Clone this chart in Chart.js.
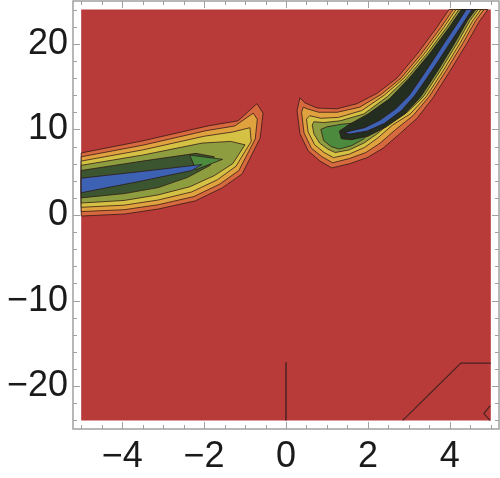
<!DOCTYPE html>
<html>
<head>
<meta charset="utf-8">
<script src="https://cdn.jsdelivr.net/npm/chart.js@4.4.0/dist/chart.umd.min.js"></script>
<style>
  html, body { margin: 0; padding: 0; background: #fff; }
  canvas { display: block; }
</style>
</head>
<body>
<canvas id="contourChart" width="500" height="478"></canvas>
<script>
// tick labels
const xTickValues = [-4, -2, 0, 2, 4];
const yTickValues = [-20, -10, 0, 10, 20];

// sampled region of the plot (x, y)
const plotRegion = [[-5, -24], [5, -24], [5, 24], [-5, 24]];

// left band, contour levels from outside to inside
const leftLevel1 = [[-5, 7.25], [-3.51, 8.65], [-1.9, 10.41], [-1.17, 11.0], [-0.71, 13.0], [-0.56, 11.9], [-0.63, 9.0],
  [-1.07, 4.8], [-1.56, 3.16], [-2.22, 1.64], [-3.12, 0.7], [-3.93, 0.12], [-5, -0.12]];
const leftLevel2 = [[-5, 6.8], [-3.5, 8.15], [-1.95, 9.85], [-1.25, 10.4], [-0.8, 11.9], [-0.7, 11.2], [-0.75, 8.9],
  [-1.15, 5.2], [-1.62, 3.6], [-2.25, 2.15], [-3.12, 1.2], [-3.95, 0.62], [-5, 0.4]];
const leftLevel3 = [[-5, 6.3], [-3.5, 7.6], [-2.0, 9.2], [-1.3, 9.7], [-0.88, 10.2], [-0.85, 8.6], [-1.22, 5.7],
  [-1.68, 4.1], [-2.3, 2.7], [-3.12, 1.75], [-3.95, 1.15], [-5, 0.9]];
const leftLevel4 = [[-5, 5.8], [-3.5, 7.0], [-2.05, 8.4], [-1.35, 8.6], [-1.0, 8.2], [-1.3, 6.0], [-1.75, 4.6],
  [-2.35, 3.3], [-3.12, 2.35], [-3.95, 1.7], [-5, 1.4]];
const leftLevel5 = [[-5, 5.2], [-3.5, 6.3], [-2.2, 7.2], [-1.75, 6.8], [-1.85, 5.8], [-2.4, 4.4], [-3.12, 3.2],
  [-3.95, 2.5], [-5, 2.0]];
const leftLevel6 = [[-2.35, 7.0], [-1.55, 6.5], [-2.2, 5.3]];
const leftLevel7 = [[-5, 4.3], [-3.5, 5.1], [-2.05, 5.9], [-2.3, 5.2], [-3.5, 4.0], [-5, 2.6]];

// right band, contour levels from outside to inside
const rightLevel1 = [[0.34, 13.7], [0.27, 12.2], [0.34, 9.5], [0.54, 7.5], [0.83, 6.3], [1.12, 5.5], [1.56, 6.0],
  [1.98, 6.7], [2.37, 7.8], [2.78, 9.5], [3.2, 11.3], [3.59, 13.7], [4.0, 16.8], [4.41, 20.0], [4.73, 22.7],
  [4.93, 24], [3.98, 24], [3.68, 21.9], [3.2, 18.8], [2.71, 16.0], [2.22, 14.2], [1.73, 13.0], [1.24, 12.4],
  [0.76, 12.5], [0.46, 13.1]];
const rightLevel2 = [[0.42, 12.6], [0.38, 12.0], [0.44, 9.6], [0.62, 7.8], [0.88, 6.8], [1.14, 6.1], [1.55, 6.6],
  [1.95, 7.3], [2.3, 8.4], [2.68, 10.0], [3.1, 11.6], [3.49, 13.8], [3.9, 16.8], [4.31, 20.0], [4.63, 22.7],
  [4.83, 24], [4.08, 24], [3.78, 21.9], [3.3, 18.8], [2.81, 16.0], [2.33, 14.1], [1.8, 12.6], [1.25, 12.0],
  [0.8, 12.0], [0.52, 12.4]];
const rightLevel3 = [[0.5, 11.2], [0.54, 9.7], [0.7, 8.2], [0.93, 7.3], [1.16, 6.7], [1.54, 7.1], [1.92, 7.9],
  [2.24, 9.0], [2.6, 10.5], [3.03, 11.8], [3.42, 13.8], [3.83, 16.8], [4.24, 20.0], [4.56, 22.7], [4.76, 24],
  [4.15, 24], [3.85, 21.9], [3.37, 18.8], [2.88, 16.0], [2.4, 14.0], [1.85, 12.2], [1.28, 11.4], [0.85, 11.3],
  [0.58, 11.6]];
const rightLevel4 = [[0.64, 10.5], [0.68, 9.5], [0.82, 8.4], [1.02, 7.7], [1.2, 7.3], [1.54, 7.6], [1.9, 8.4],
  [2.2, 9.4], [2.53, 10.7], [2.96, 12.0], [3.35, 13.8], [3.76, 16.8], [4.17, 20.0], [4.49, 22.7], [4.69, 24],
  [4.22, 24], [3.92, 21.9], [3.44, 18.8], [2.95, 16.0], [2.47, 13.8], [1.9, 11.8], [1.32, 11.0], [0.92, 10.8],
  [0.68, 10.9]];
const rightLevel5 = [[0.85, 10.0], [0.92, 8.7], [1.1, 8.0], [1.3, 7.7], [1.6, 8.1], [1.9, 8.9], [2.1, 9.9],
  [1.8, 10.8], [1.35, 10.6], [1.0, 10.3]];
const rightLevel6 = [[1.3, 9.8], [1.35, 8.9], [1.6, 8.8], [2.0, 9.2], [2.45, 10.3], [2.9, 11.8], [3.29, 13.8],
  [3.7, 16.8], [4.11, 20.0], [4.43, 22.7], [4.63, 24], [4.28, 24], [3.98, 21.9], [3.5, 18.8], [3.01, 16.0],
  [2.53, 13.6], [2.0, 11.8], [1.55, 10.6]];
const rightLevel7 = [[1.42, 9.6], [1.55, 9.45], [1.98, 9.8], [2.4, 10.7], [2.82, 12.2], [3.15, 14.0], [3.44, 16.0],
  [3.72, 18.0], [3.99, 20.0], [4.27, 22.0], [4.54, 24], [4.4, 24], [4.13, 22.0], [3.85, 20.0], [3.58, 18.0],
  [3.3, 16.0], [3.01, 14.0], [2.68, 12.4], [2.3, 11.1], [1.92, 10.2], [1.6, 9.85]];

// single contour lines near the bottom
const zeroLine = [[0, -24], [0, -17.2]];
const cornerLine = [[2.85, -24], [4.27, -17.3], [5, -17.3]];
const cornerNotch = [[4.98, -22.3], [4.83, -23.2], [4.98, -24]];

const backgroundColor = '#b83b3a';
const levelColors = ['#d6693e', '#e0a13f', '#d5c245', '#8e9d3f', '#4c8a3e', '#3a5530', '#3d62b4'];
const rightDark = '#232d20';
const contourLine = 'rgba(45, 22, 20, 0.75)';

function toPoints(arr) {
    return arr.map(p => ({ x: p[0], y: p[1] }));
}

function polygon(arr, color) {
    return {
        data: toPoints(arr.concat([arr[0]])),
        showLine: true,
        fill: 'shape',
        backgroundColor: color,
        borderColor: contourLine,
        borderWidth: 1,
        pointRadius: 0
    };
}

function line(arr, width, color) {
    return {
        data: toPoints(arr),
        showLine: true,
        fill: false,
        borderColor: color,
        borderWidth: width,
        pointRadius: 0
    };
}

// paint order: first one ends up at the bottom
const layers = [
    Object.assign(polygon(plotRegion, backgroundColor), { borderWidth: 0 }),
    polygon(leftLevel1, levelColors[0]),
    polygon(leftLevel2, levelColors[1]),
    polygon(leftLevel3, levelColors[2]),
    polygon(leftLevel4, levelColors[3]),
    polygon(leftLevel5, levelColors[5]),
    polygon(leftLevel6, levelColors[4]),
    polygon(leftLevel7, levelColors[6]),
    polygon(rightLevel1, levelColors[0]),
    polygon(rightLevel2, levelColors[1]),
    polygon(rightLevel3, levelColors[2]),
    polygon(rightLevel4, levelColors[3]),
    polygon(rightLevel5, levelColors[4]),
    polygon(rightLevel6, rightDark),
    polygon(rightLevel7, levelColors[6]),
    line(zeroLine, 1.5, '#4a2222'),
    line(cornerLine, 1.2, '#4a2222'),
    line(cornerNotch, 1.2, '#4a2222')
];

// Mathematica style frame with inward ticks on all four sides
const framePlugin = {
    id: 'frame',
    afterDraw(chart) {
        const { ctx, chartArea: a, scales: { x, y } } = chart;
        ctx.save();
        ctx.strokeStyle = '#a0a0a0';
        ctx.lineWidth = 1.5;
        ctx.strokeRect(a.left, a.top, a.right - a.left, a.bottom - a.top);
        ctx.lineWidth = 1;
        ctx.beginPath();
        for (let i = -10; i <= 10; i++) {
            const v = i * 0.5;
            const len = xTickValues.includes(v) ? 7 : 4;
            const px = Math.round(x.getPixelForValue(v)) + 0.5;
            ctx.moveTo(px, a.bottom); ctx.lineTo(px, a.bottom - len);
            ctx.moveTo(px, a.top); ctx.lineTo(px, a.top + len);
        }
        for (let i = -12; i <= 12; i++) {
            const v = i * 2;
            const len = yTickValues.includes(v) ? 7 : 4;
            const py = Math.round(y.getPixelForValue(v)) + 0.5;
            ctx.moveTo(a.left, py); ctx.lineTo(a.left + len, py);
            ctx.moveTo(a.right, py); ctx.lineTo(a.right - len, py);
        }
        ctx.stroke();
        ctx.restore();
    }
};

const tickFont = { family: 'Liberation Sans', size: 36 };
const minus = v => String(v).replace('-', '\u2212');

new Chart(document.getElementById('contourChart'), {
    type: 'scatter',
    data: { datasets: layers.slice().reverse() },
    options: {
        responsive: false,
        animation: false,
        layout: { padding: { top: 1, right: 1, left: 0, bottom: 0 } },
        plugins: {
            legend: { display: false },
            tooltip: { enabled: false }
        },
        scales: {
            x: {
                type: 'linear',
                min: -5.2,
                max: 5.2,
                afterBuildTicks: s => { s.ticks = xTickValues.map(v => ({ value: v })); },
                afterFit: s => { s.height = 49; s.paddingLeft = 0; s.paddingRight = 0; },
                grid: { display: false, drawTicks: false },
                border: { display: false },
                ticks: { font: tickFont, color: '#1a1a1a', padding: 6, maxRotation: 0, callback: minus }
            },
            y: {
                type: 'linear',
                min: -25,
                max: 25,
                afterBuildTicks: s => { s.ticks = yTickValues.map(v => ({ value: v })); },
                afterFit: s => { s.width = 73; s.paddingTop = 0; s.paddingBottom = 0; },
                grid: { display: false, drawTicks: false },
                border: { display: false },
                ticks: { font: tickFont, color: '#1a1a1a', padding: 5, callback: minus }
            }
        }
    },
    plugins: [framePlugin]
});
</script>
</body>
</html>
